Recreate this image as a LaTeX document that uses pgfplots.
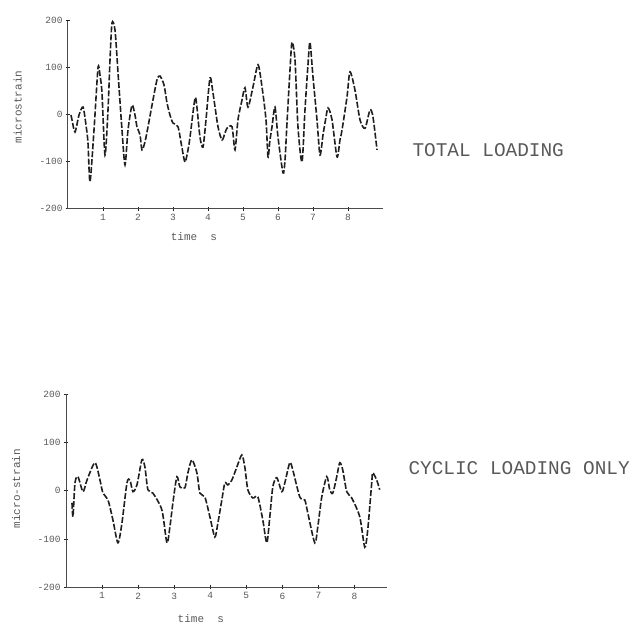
\documentclass[border=0pt]{standalone}
\usepackage{fontspec}
\setmainfont{Liberation Mono}
\usepackage{pgfplots}
\pgfplotsset{compat=1.18}

\definecolor{ink}{gray}{0.12}
\definecolor{txt}{gray}{0.35}

\pgfplotsset{
  scan/.style={
    scale only axis,
    axis lines=left,
    axis line style={-, ink!80, line width=1pt},
    tick style={ink, line width=0.8pt},
    major tick length=4pt,
    ymin=-200, ymax=200,
    ytick={-200,-100,0,100,200},
    xtick={1,2,3,4,5,6,7,8},
    ticklabel style={font=\fontsize{9.5}{10}\selectfont, text=txt},
    /pgf/number format/assume math mode=true,
    label style={font=\fontsize{11}{12}\selectfont, text=txt},
    clip=false,
  },
  trace/.style={ink, line width=1.6pt, smooth, tension=0.45,
    dash pattern=on 6pt off 2pt},
}

\begin{document}
\begin{tikzpicture}
\path (0pt,0pt) rectangle (635pt,-629pt);

% top panel: total loading
\begin{axis}[scan,
  at={(68pt,-208.6pt)}, anchor=south west,
  width=315pt, height=188pt,
  xmin=0, xmax=9,
  xlabel={time~~s}, ylabel={microstrain},
  xlabel style={at={(axis description cs:0.40,-0.15)}, anchor=center},
  ylabel style={at={(axis description cs:-0.16,0.54)}, anchor=center, rotate=0},
]
\addplot[trace] coordinates {
 (0.086,-1) (0.114,-11) (0.2,-37) (0.314,-1) (0.429,16) (0.514,-22)
 (0.571,-60) (0.629,-143) (0.743,-33) (0.857,99) (0.914,84) (0.971,46)
 (1.057,-86) (1.143,10) (1.2,116) (1.257,195) (1.343,180) (1.429,89)
 (1.543,-33) (1.629,-107) (1.714,-33) (1.829,20) (1.914,-1) (1.971,-26)
 (2.057,-43) (2.114,-75) (2.2,-58) (2.286,-26) (2.4,20) (2.543,74)
 (2.629,82) (2.743,63) (2.829,25) (2.914,-1) (3.0,-18) (3.143,-26)
 (3.257,-71) (3.343,-101) (3.429,-75) (3.486,-48) (3.629,35) (3.686,14)
 (3.771,-48) (3.857,-69) (3.943,-11) (4.057,78) (4.143,46) (4.286,-26)
 (4.4,-54) (4.486,-39) (4.543,-29) (4.686,-26) (4.771,-75) (4.857,-11)
 (4.971,31) (5.057,57) (5.143,16) (5.286,59) (5.429,106) (5.543,59)
 (5.657,-11) (5.714,-90) (5.771,-54) (5.829,-26) (5.914,16) (6.0,-48)
 (6.143,-124) (6.2,-97) (6.257,-18) (6.343,95) (6.4,154) (6.486,116)
 (6.571,-26) (6.686,-101) (6.771,10) (6.857,106) (6.914,154) (7.0,80)
 (7.114,-11) (7.2,-86) (7.286,-43) (7.343,-18) (7.429,14) (7.543,-11)
 (7.686,-90) (7.771,-54) (7.829,-33) (7.971,37) (8.057,91) (8.2,52)
 (8.343,-11) (8.486,-29) (8.629,10) (8.714,-5) (8.829,-75)
};
\end{axis}

% bottom panel: cyclic loading only
\begin{axis}[scan,
  at={(66pt,-587.2pt)}, anchor=south west,
  width=321pt, height=193pt,
  xmin=0, xmax=8.9,
  xlabel={time~~s}, ylabel={micro-strain},
  xlabel style={at={(axis description cs:0.42,-0.16)}, anchor=center},
  ylabel style={at={(axis description cs:-0.155,0.51)}, anchor=center, rotate=0},
]
\addplot[trace] coordinates {
 (0.166,-25) (0.194,-54) (0.249,16) (0.332,29) (0.471,-2) (0.582,22)
 (0.803,58) (0.942,22) (1.025,-5) (1.163,-19) (1.302,-61) (1.44,-108)
 (1.551,-67) (1.69,16) (1.773,22) (1.856,-2) (1.967,12) (2.105,64)
 (2.188,49) (2.271,2) (2.41,-5) (2.659,-40) (2.798,-108) (2.881,-75)
 (2.964,-25) (3.075,29) (3.158,8) (3.296,6) (3.38,37) (3.49,64)
 (3.629,37) (3.712,-5) (3.85,-13) (3.989,-54) (4.127,-96) (4.211,-67)
 (4.321,-19) (4.404,16) (4.488,12) (4.598,22) (4.737,49) (4.875,74)
 (4.958,49) (5.042,2) (5.18,-15) (5.319,-13) (5.457,-61) (5.568,-108)
 (5.651,-54) (5.734,8) (5.845,27) (5.983,-2) (6.066,16) (6.205,58)
 (6.288,43) (6.482,-13) (6.62,-19) (6.704,-46) (6.898,-108) (6.981,-75)
 (7.091,-13) (7.23,29) (7.313,2) (7.396,-5) (7.507,29) (7.59,58)
 (7.673,43) (7.784,-2) (7.922,-15) (8.144,-54) (8.283,-117) (8.366,-81)
 (8.476,16) (8.504,37) (8.615,22) (8.698,2)
};
\end{axis}

\node[anchor=west, text=txt, font=\fontsize{19.4}{20}\selectfont] at (409pt,-150pt) {TOTAL LOADING};
\node[anchor=west, text=txt, font=\fontsize{19.4}{20}\selectfont] at (405pt,-468pt) {CYCLIC LOADING ONLY};
\end{tikzpicture}
\end{document}
